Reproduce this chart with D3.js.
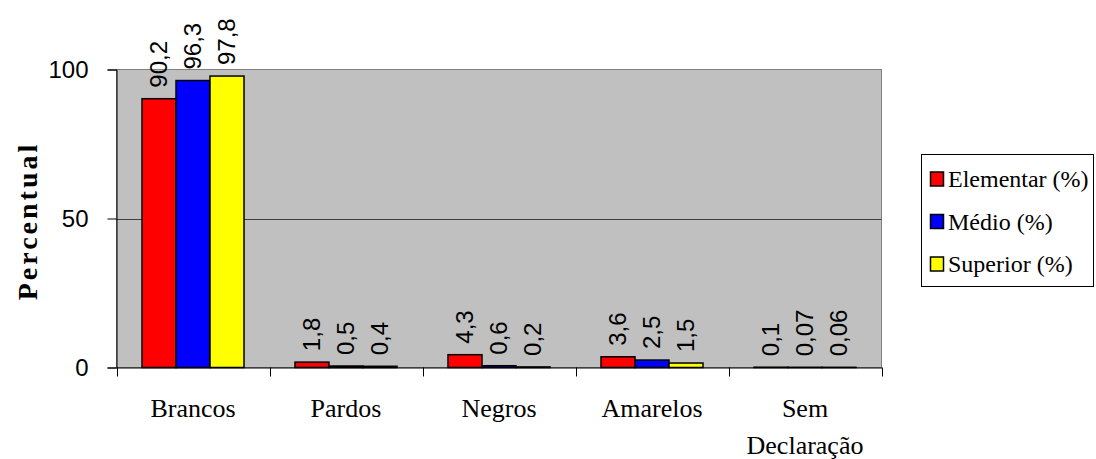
<!DOCTYPE html>
<html>
<head>
<meta charset="utf-8">
<script src="https://cdn.jsdelivr.net/npm/d3@7"></script>
<style>
  html, body { margin: 0; padding: 0; background: #fff; }
  svg { display: block; }
  .serif { font-family: 'Liberation Serif', 'Times New Roman', Times, serif; }
  .sans { font-family: 'Liberation Sans', Arial, Helvetica, sans-serif; }
</style>
</head>
<body>
<svg id="chart" width="1096" height="459"></svg>
<script>
const categories = ["Brancos", "Pardos", "Negros", "Amarelos", "Sem Declaração"];
const categoryLines = [["Brancos"], ["Pardos"], ["Negros"], ["Amarelos"], ["Sem", "Declaração"]];
const seriesNames = ["Elementar (%)", "Médio (%)", "Superior (%)"];
const elementar = [90.2, 1.8, 4.3, 3.6, 0.1];
const medio = [96.3, 0.5, 0.6, 2.5, 0.07];
const superior = [97.8, 0.4, 0.2, 1.5, 0.06];
const seriesColors = ["#FF0000", "#0000FF", "#FFFF00"];
const yTicks = [0, 50, 100];
const yTitle = "Percentual";

const series = [elementar, medio, superior];

const svg = d3.select("#chart");
const plot = { left: 116.5, right: 881.5, top: 69.5, bottom: 367.5 };

const x = d3.scaleBand().domain(categories).range([plot.left, plot.right]).paddingInner(0).paddingOuter(0);
const xInner = d3.scaleBand().domain(d3.range(seriesNames.length))
  .range([0, x.bandwidth()]).paddingInner(0).paddingOuter(0.75);
const y = d3.scaleLinear().domain([0, 100]).range([plot.bottom, plot.top]);

// plot background
svg.append("rect")
  .attr("x", plot.left).attr("y", plot.top)
  .attr("width", plot.right - plot.left).attr("height", plot.bottom - plot.top)
  .attr("fill", "#C0C0C0").attr("stroke", "#808080").attr("stroke-width", 1);

// gridlines
svg.append("g").selectAll("line").data(yTicks.filter(t => t > 0 && t < 100)).join("line")
  .attr("x1", plot.left).attr("x2", plot.right)
  .attr("y1", d => Math.round(y(d)) + 0.5).attr("y2", d => Math.round(y(d)) + 0.5)
  .attr("stroke", "#404040").attr("stroke-width", 1);

// bars
const groups = svg.append("g").selectAll("g").data(categories).join("g")
  .attr("transform", d => `translate(${x(d)},0)`);

groups.each(function(cat, ci) {
  const g = d3.select(this);
  series.forEach((s, si) => {
    const v = s[ci];
    const bx = xInner(si);
    const bw = xInner.bandwidth();
    g.append("rect")
      .attr("x", bx).attr("y", y(v))
      .attr("width", bw).attr("height", Math.max(0, y(0) - y(v)))
      .attr("fill", seriesColors[si])
      .attr("stroke", "#000").attr("stroke-width", 1.5);
    const lx = bx + bw / 2 + 8;
    const ly = y(v) - 11;
    g.append("text")
      .attr("class", "sans")
      .attr("transform", `translate(${lx},${ly}) rotate(-90)`)
      .attr("font-size", 24)
      .attr("fill", "#000")
      .attr("text-anchor", "start")
      .text(String(v).replace(".", ","));
  });
});

// y axis
const yAxis = d3.axisLeft(y).tickValues(yTicks).tickSize(9).tickPadding(19).tickFormat(d3.format("d"));
const yg = svg.append("g").attr("transform", `translate(${plot.left},0)`).call(yAxis);
yg.attr("font-family", null).attr("font-size", null);
yg.select(".domain").attr("stroke", "#000").attr("stroke-width", 1);
yg.selectAll(".tick line").attr("stroke", "#000");
yg.selectAll(".tick text")
  .attr("class", "sans")
  .attr("font-size", 24).attr("fill", "#000");

// x axis
const xAxis = d3.axisBottom(x).tickSize(0).tickFormat("");
const xg = svg.append("g").attr("transform", `translate(0,${plot.bottom})`).call(xAxis);
xg.select(".domain").attr("stroke", "#000").attr("stroke-width", 1);
const boundaries = categories.map(c => x(c)).concat([x.range()[1]]);
xg.selectAll("line.bt").data(boundaries).join("line").attr("class", "bt")
  .attr("x1", d => Math.round(d) + 0.5).attr("x2", d => Math.round(d) + 0.5)
  .attr("y1", 0).attr("y2", 9).attr("stroke", "#000");

// category labels
categories.forEach((c, i) => {
  const t = svg.append("text")
    .attr("class", "serif")
    .attr("x", x(c) + x.bandwidth() / 2)
    .attr("y", 417)
    .attr("text-anchor", "middle")
    .attr("font-size", 26).attr("fill", "#000");
  categoryLines[i].forEach((line, li) => {
    t.append("tspan").attr("x", x(c) + x.bandwidth() / 2).attr("dy", li === 0 ? 0 : 37).text(line);
  });
});

// y title
svg.append("text")
  .attr("class", "serif")
  .attr("transform", `translate(37,${221}) rotate(-90)`)
  .attr("text-anchor", "middle")
  .attr("font-weight", "bold")
  .attr("font-size", 28)
  .attr("letter-spacing", 3)
  .attr("fill", "#000")
  .text(yTitle);

// legend
const legend = svg.append("g");
legend.append("rect")
  .attr("x", 921.5).attr("y", 154.5).attr("width", 172).attr("height", 132)
  .attr("fill", "#fff").attr("stroke", "#000").attr("stroke-width", 1);
seriesNames.forEach((name, i) => {
  const yy = 172 + i * 42.5;
  legend.append("rect")
    .attr("x", 930.5).attr("y", yy).attr("width", 13).attr("height", 14)
    .attr("fill", seriesColors[i]).attr("stroke", "#000").attr("stroke-width", 1.5);
  legend.append("text")
    .attr("class", "serif")
    .attr("x", 948).attr("y", yy + 15)
    .attr("font-size", 24).attr("fill", "#000")
    .text(name);
});
</script>
</body>
</html>
